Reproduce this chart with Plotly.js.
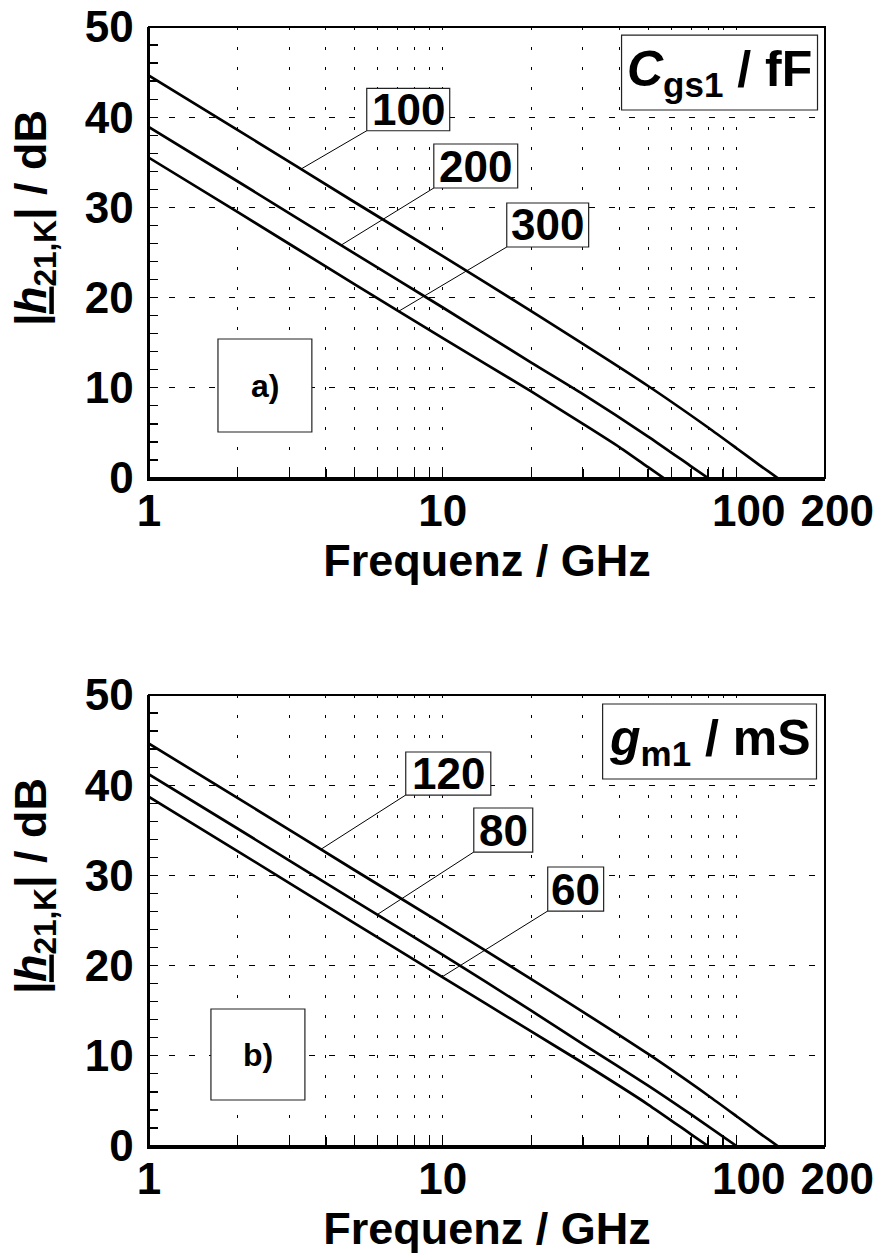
<!DOCTYPE html>
<html>
<head>
<meta charset="utf-8">
<script src="https://cdn.plot.ly/plotly-3.0.1.min.js"></script>
<style>html,body{margin:0;padding:0;background:#fff;}</style>
</head>
<body>
<div id="chart" style="width:882px;height:1256px;"></div>
<script>
// ---- Data ----
// Panel a) : C_gs1 / fF
const freqCgs100 = [1, 2, 5, 10, 20, 50, 80, 100, 120, 138];
const dbCgs100   = [44.6, 38.6, 30.6, 24.6, 18.5, 10.2, 5.6, 3.3, 1.4, 0];
const freqCgs200 = [1, 2, 5, 10, 20, 30, 50, 70, 80];
const dbCgs200   = [38.9, 32.9, 24.9, 18.9, 12.8, 9.3, 4.6, 1.3, 0];
const freqCgs300 = [1, 2, 5, 10, 20, 30, 40, 50, 56.5];
const dbCgs300   = [35.5, 29.5, 21.5, 15.5, 9.6, 6.0, 3.4, 1.2, 0];
const cgsLabels  = ["100", "200", "300"];

// Panel b) : g_m1 / mS
const freqGm120 = [1, 2, 5, 10, 20, 50, 80, 100, 120, 138];
const dbGm120   = [44.6, 38.6, 30.6, 24.6, 18.5, 10.2, 5.6, 3.3, 1.4, 0];
const freqGm80  = [1, 2, 5, 10, 20, 30, 50, 70, 100];
const dbGm80    = [41.2, 35.2, 27.2, 21.2, 15.0, 11.3, 6.7, 3.5, 0];
const freqGm60  = [1, 2, 5, 10, 20, 30, 50, 70, 80];
const dbGm60    = [38.7, 32.7, 24.7, 18.7, 12.7, 9.2, 4.6, 1.3, 0];
const gmLabels  = ["120", "80", "60"];

// Ticks
const xTickVals = [1,2,3,4,5,6,7,8,9,10,20,30,40,50,60,70,80,90,100,200];
const xTickText = ["1","","","","","","","","","10","","","","","","","","","\u00a0\u00a0100","\u00a0\u00a0200"];
const yTickVals = [0, 10, 20, 30, 40, 50];
const yTickText = ["0", "10", "20", "30", "40", "50"];
const xTitle = 'Frequenz / GHz';
const yTitle = '<i>|<u>h</u></i><sub>21,K</sub>| / dB';

const FONT = 'Liberation Sans, Arial, Helvetica, sans-serif';
const L = Math.log10;

function curve(x, y, xa, ya) {
  return {x: x, y: y, mode: 'lines', xaxis: xa, yaxis: ya,
          line: {color: 'black', width: 2.7, shape: 'spline', smoothing: 0.6}, hoverinfo: 'skip'};
}

const data = [
  curve(freqCgs100, dbCgs100, 'x', 'y'),
  curve(freqCgs200, dbCgs200, 'x', 'y'),
  curve(freqCgs300, dbCgs300, 'x', 'y'),
  curve(freqGm120, dbGm120, 'x2', 'y2'),
  curve(freqGm80, dbGm80, 'x2', 'y2'),
  curve(freqGm60, dbGm60, 'x2', 'y2')
];

function makeX(anchor) {
  return {
    anchor: anchor, type: 'log', range: [0, L(200)],
    tickmode: 'array', tickvals: xTickVals, ticktext: xTickText, tickangle: 0,
    ticks: 'inside', ticklen: 9, tickwidth: 1.3, tickcolor: 'black',
    ticklabelstandoff: -7,
    tickfont: {family: FONT, size: 44, color: 'black', weight: 'bold'},
    showgrid: true, gridcolor: 'black', gridwidth: 1, griddash: '3px,17px',
    showline: true, linecolor: 'black', linewidth: 2.5, mirror: false, zeroline: false,
    title: {text: xTitle, standoff: 2,
            font: {family: FONT, size: 45, color: 'black', weight: 'bold'}},
    fixedrange: true
  };
}
function makeY(anchor, domain) {
  return {
    anchor: anchor, domain: domain, range: [0, 50],
    tickmode: 'array', tickvals: yTickVals, ticktext: yTickText,
    ticks: 'inside', ticklen: 9, tickwidth: 1.3, tickcolor: 'black',
    ticklabelstandoff: 4,
    minor: {tickmode: 'linear', tick0: 0, dtick: 2, ticks: 'inside', ticklen: 9,
            tickwidth: 1.3, tickcolor: 'black', showgrid: false},
    tickfont: {family: FONT, size: 44, color: 'black', weight: 'bold'},
    showgrid: true, gridcolor: 'black', gridwidth: 1, griddash: '6px,14px',
    showline: true, linecolor: 'black', linewidth: 2.5, mirror: false, zeroline: false,
    fixedrange: true
  };
}

function box(xr, yr, x0, x1, y0, y1, w) {
  return {type: 'rect', xref: xr, yref: yr, x0: x0, x1: x1, y0: y0, y1: y1,
          fillcolor: 'white', line: {color: '#222', width: w || 1.2}, layer: 'above'};
}
function leader(xr, yr, x0, y0, x1, y1) {
  return {type: 'line', xref: xr, yref: yr, x0: x0, y0: y0, x1: x1, y1: y1,
          line: {color: 'black', width: 1}, layer: 'above'};
}
function frame(xr, yr) {
  return {type: 'rect', xref: xr + ' domain', yref: yr + ' domain', x0: 0, x1: 1, y0: 0, y1: 1,
          line: {color: 'black', width: 2}, fillcolor: 'rgba(0,0,0,0)', layer: 'above'};
}
function label(xr, yr, x, y, text, size) {
  return {xref: xr, yref: yr, x: L(x), y: y, text: text, showarrow: false,
          xanchor: 'center', yanchor: 'middle',
          font: {family: FONT, size: size, color: 'black', weight: 'bold'}};
}
function yTitleAnn(yr) {
  return {xref: 'paper', yref: yr + ' domain', x: 0, y: 0.575, xshift: -115,
          text: yTitle, textangle: -90, showarrow: false,
          xanchor: 'center', yanchor: 'middle',
          font: {family: FONT, size: 45, color: 'black', weight: 'bold'}};
}

const shapes = [
  frame('x', 'y'), frame('x2', 'y2'),
  // panel a
  leader('x', 'y', 5.51, 38.5, 3.31, 34.3),
  leader('x', 'y', 9.32, 32.15, 4.50, 25.8),
  leader('x', 'y', 16.51, 25.61, 7.09, 18.5),
  box('x', 'y', 5.51, 10.56, 38.5, 43.2),
  box('x', 'y', 9.32, 17.99, 32.15, 37.03),
  box('x', 'y', 16.51, 31.37, 25.61, 30.49),
  box('x', 'y', 40.6, 188.6, 40.8, 49.11),
  box('x', 'y', 1.717, 3.584, 5.1, 15.41),
  // panel b
  leader('x2', 'y2', 7.48, 38.91, 3.85, 32.9),
  leader('x2', 'y2', 12.75, 32.59, 6.01, 25.7),
  leader('x2', 'y2', 22.76, 26.05, 10.0, 18.8),
  box('x2', 'y2', 7.48, 14.57, 38.91, 43.68),
  box('x2', 'y2', 12.75, 20.24, 32.59, 37.47),
  box('x2', 'y2', 22.76, 35.28, 26.05, 30.93),
  box('x2', 'y2', 35.0, 187.1, 40.69, 49.0),
  box('x2', 'y2', 1.625, 3.394, 5.1, 15.19)
];

const annotations = [
  label('x', 'y', 7.63, 40.85, cgsLabels[0], 44),
  label('x', 'y', 12.95, 34.59, cgsLabels[1], 44),
  label('x', 'y', 22.76, 28.05, cgsLabels[2], 44),
  label('x', 'y', 87.5, 44.96, '<i>C</i><sub>gs1</sub> / fF', 50),
  label('x', 'y', 2.48, 10.25, 'a)', 32),
  label('x2', 'y2', 10.44, 41.3, gmLabels[0], 44),
  label('x2', 'y2', 16.06, 35.03, gmLabels[1], 44),
  label('x2', 'y2', 28.34, 28.49, gmLabels[2], 44),
  label('x2', 'y2', 80.9, 44.84, '<i>g</i><sub>m1</sub> / mS', 50),
  label('x2', 'y2', 2.35, 10.14, 'b)', 32),
  yTitleAnn('y'), yTitleAnn('y2')
];

const layout = {
  width: 882, height: 1256,
  margin: {l: 149, r: 57, t: 27, b: 110, pad: 0},
  paper_bgcolor: 'white', plot_bgcolor: 'white',
  font: {family: FONT, color: 'black', size: 43, weight: 'bold'},
  showlegend: false,
  xaxis: makeX('y'),
  yaxis: makeY('x', [0.59696, 1]),
  xaxis2: makeX('y2'),
  yaxis2: makeY('x2', [0, 0.40304]),
  shapes: shapes,
  annotations: annotations
};

Plotly.newPlot('chart', data, layout, {displayModeBar: false, staticPlot: true});
</script>
</body>
</html>
